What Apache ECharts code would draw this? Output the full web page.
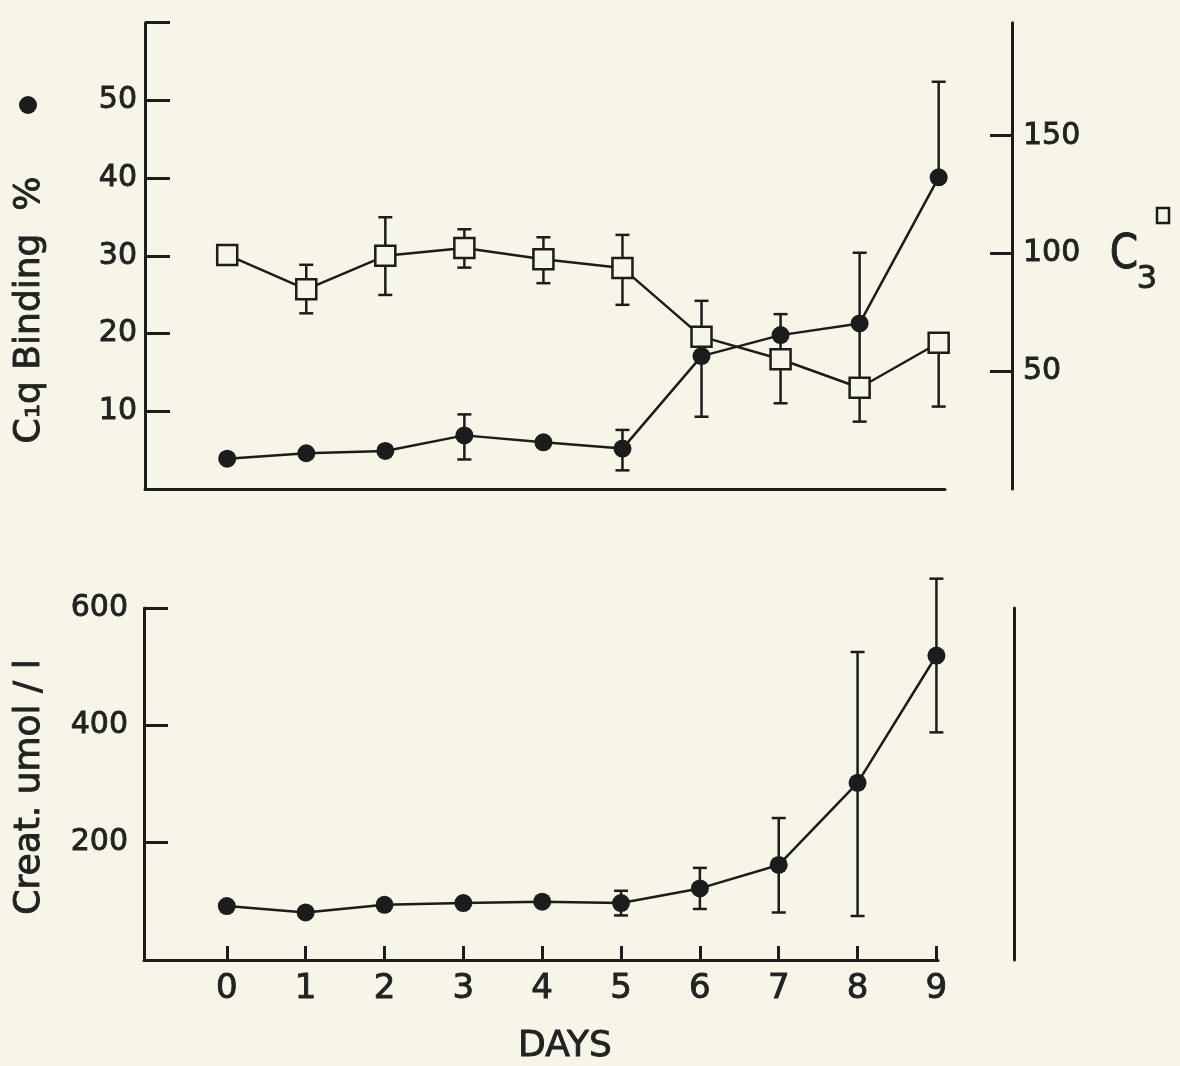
<!DOCTYPE html>
<html>
<head>
<meta charset="utf-8">
<script src="https://cdn.jsdelivr.net/npm/echarts@6/dist/echarts.min.js"></script>
<style>
html,body{margin:0;padding:0;background:#f6f5e7;}
#chart{width:1180px;height:1066px;}
</style>
</head>
<body>
<div id="chart"></div>
<script>
// ---- data ----
var days = [0, 1, 2, 3, 4, 5, 6, 7, 8, 9];
var c1q      = [3.9, 4.6, 4.9, 6.9, 6.0, 5.2, 17.1, 19.8, 21.3, 40.1];
var c1qHigh  = [null, null, null, 9.6, null, 7.6, null, 22.5, 30.4, 52.4];
var c1qLow   = [null, null, null, 3.8, null, 2.4, 9.3, 17.1, 12.2, null];
var c3       = [99.4, 84.8, 99.0, 102.3, 97.6, 93.8, 64.7, 55.1, 43.0, 62.1];
var c3High   = [null, 95.2, 115.4, 110.3, 106.9, 107.9, 79.9, null, null, null];
var c3Low    = [null, 74.6, 82.4, 94.0, 87.4, 78.2, null, 36.4, 28.6, 35.0];
var creat     = [92, 81, 94, 97, 99.5, 97, 122, 162, 302, 519];
var creatHigh = [null, null, null, null, null, 118, 157, 242, 525, 650];
var creatLow  = [null, null, null, null, null, 76, 87, 81, 75, 388];
var c1qTicks = [10, 20, 30, 40, 50, 60];
var c1qLabels = [10, 20, 30, 40, 50];
var c3Ticks = [50, 100, 150];
var creatTicks = [200, 400, 600];

var INK = '#1c1c1c';
var TXT = '#222';
var BG = '#f6f5e7';
var FONT = 'DejaVu Sans';

function errSeries(name, xi, yi, mean, low, high) {
  return {
    type: 'custom', name: name, xAxisIndex: xi, yAxisIndex: yi, z: 1,
    data: days.map(function (d, i) { return [d, mean[i]]; }),
    renderItem: function (params, api) {
      var i = params.dataIndex;
      var children = [];
      var c = api.coord([days[i], mean[i]]);
      var cap = 7;
      var st = { stroke: INK, lineWidth: 2.5 };
      [high[i], low[i]].forEach(function (v) {
        if (v === null || v === undefined) return;
        var p = api.coord([days[i], v]);
        children.push({ type: 'line', shape: { x1: c[0], y1: c[1], x2: p[0], y2: p[1] }, style: st });
        children.push({ type: 'line', shape: { x1: p[0] - cap, y1: p[1], x2: p[0] + cap, y2: p[1] }, style: st });
      });
      return { type: 'group', children: children };
    }
  };
}

function lbl(extra) {
  var o = { show: true, fontSize: 30, fontFamily: FONT, color: TXT, textBorderColor: TXT, textBorderWidth: 0.9 };
  for (var k in extra) o[k] = extra[k];
  return o;
}
function txt(text, size, extra) {
  var o = { text: text, fontSize: size, fontFamily: FONT, fill: TXT, stroke: TXT, lineWidth: 0.9, align: 'center', verticalAlign: 'middle' };
  for (var k in extra) o[k] = extra[k];
  return o;
}

var axisLineStyle = { color: INK, width: 3 };
var chart = echarts.init(document.getElementById('chart'));
chart.setOption({
  animation: false,
  backgroundColor: BG,
  grid: [
    { left: 145, right: 235, top: 22.7, height: 466.3 },
    { left: 144, right: 242, top: 608, height: 352 }
  ],
  xAxis: [
    { type: 'value', gridIndex: 0, min: -1.04, max: 9.08,
      axisLine: { show: true, onZero: false, lineStyle: axisLineStyle },
      axisTick: { show: false }, axisLabel: { show: false }, splitLine: { show: false } },
    { type: 'value', gridIndex: 1, min: -1.05, max: 9.02,
      axisLine: { show: true, onZero: false, lineStyle: axisLineStyle },
      axisTick: { show: true, inside: true, length: 14, customValues: days, lineStyle: { color: INK, width: 3 } },
      axisLabel: lbl({ customValues: days, margin: 12, fontSize: 34 }),
      splitLine: { show: false } }
  ],
  yAxis: [
    { type: 'value', gridIndex: 0, min: 0, max: 60, position: 'left',
      axisLine: { show: true, onZero: false, lineStyle: axisLineStyle },
      axisTick: { show: true, inside: true, length: 25, customValues: c1qTicks, lineStyle: { color: INK, width: 3 } },
      axisLabel: lbl({ customValues: c1qLabels, margin: 8 }),
      splitLine: { show: false } },
    { type: 'value', gridIndex: 0, min: 0, max: 198, position: 'right', offset: 67,
      axisLine: { show: true, onZero: false, lineStyle: axisLineStyle },
      axisTick: { show: true, inside: true, length: 22, customValues: c3Ticks, lineStyle: { color: INK, width: 3 } },
      axisLabel: lbl({ customValues: c3Ticks, margin: 11 }),
      splitLine: { show: false } },
    { type: 'value', gridIndex: 1, min: 0, max: 600, position: 'left',
      axisLine: { show: true, onZero: false, lineStyle: axisLineStyle },
      axisTick: { show: true, inside: true, length: 24, customValues: creatTicks, lineStyle: { color: INK, width: 3 } },
      axisLabel: lbl({ customValues: creatTicks, margin: 16 }),
      splitLine: { show: false } },
    { type: 'value', gridIndex: 1, min: 0, max: 600, position: 'right', offset: 76,
      axisLine: { show: true, onZero: false, lineStyle: axisLineStyle },
      axisTick: { show: false }, axisLabel: { show: false }, splitLine: { show: false } }
  ],
  series: [
    errSeries('c1q err', 0, 0, c1q, c1qLow, c1qHigh),
    errSeries('c3 err', 0, 1, c3, c3Low, c3High),
    errSeries('creat err', 1, 2, creat, creatLow, creatHigh),
    { type: 'line', name: 'C1q', xAxisIndex: 0, yAxisIndex: 0, z: 3,
      data: days.map(function (d, i) { return [d, c1q[i]]; }),
      symbol: 'circle', symbolSize: 18,
      lineStyle: { color: INK, width: 2.5 }, itemStyle: { color: INK } },
    { type: 'line', name: 'C3', xAxisIndex: 0, yAxisIndex: 1, z: 4,
      data: days.map(function (d, i) { return [d, c3[i]]; }),
      symbol: 'rect', symbolSize: 20,
      lineStyle: { color: INK, width: 2.5 }, itemStyle: { color: BG, borderColor: INK, borderWidth: 2.5 } },
    { type: 'line', name: 'Creat', xAxisIndex: 1, yAxisIndex: 2, z: 3,
      data: days.map(function (d, i) { return [d, creat[i]]; }),
      symbol: 'circle', symbolSize: 18,
      lineStyle: { color: INK, width: 2.5 }, itemStyle: { color: INK } }
  ],
  graphic: [
    { type: 'text', x: 30, y: 310, rotation: Math.PI / 2, style: txt('C\u2081q Binding  %', 36) },
    { type: 'circle', shape: { cx: 28, cy: 105, r: 9 }, style: { fill: INK } },
    { type: 'text', x: 30, y: 787, rotation: Math.PI / 2, style: txt('Creat. umol / l', 36) },
    { type: 'text', x: 1124, y: 256, scaleX: 0.85, style: txt('C', 48) },
    { type: 'text', x: 1147, y: 280, style: txt('3', 32) },
    { type: 'rect', shape: { x: 1157, y: 208, width: 12, height: 15 }, style: { fill: 'none', stroke: INK, lineWidth: 2.5 } },
    { type: 'text', x: 565, y: 1047, style: txt('DAYS', 36) }
  ]
});
</script>
</body>
</html>
